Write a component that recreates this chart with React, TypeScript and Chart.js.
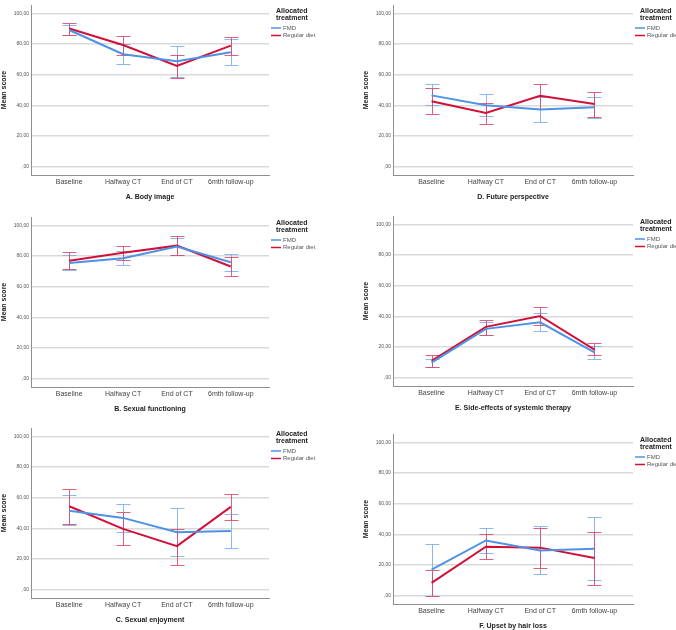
import React, { useEffect, useRef } from "react";
import { Chart, registerables } from "chart.js";

Chart.register(...registerables);

const categories = ["Baseline", "Halfway CT", "End of CT", "6mth follow-up"];
const seriesNames = ["FMD", "Regular diet"];
const yTickValues = [0, 20, 40, 60, 80, 100];

// A. Body image
const bodyImageFmd = [89.2, 73.4, 68.7, 74.7];
const bodyImageFmdLow = [85.8, 67.2, 58.7, 66.6];
const bodyImageFmdHigh = [92.6, 80.0, 78.7, 83.4];
const bodyImageReg = [90.2, 79.4, 65.7, 79.0];
const bodyImageRegLow = [85.8, 73.0, 57.7, 73.0];
const bodyImageRegHigh = [94.0, 85.5, 73.0, 84.7];

// B. Sexual functioning
const sexFuncFmd = [75.4, 78.5, 86.2, 76.0];
const sexFuncFmdLow = [70.9, 73.9, 80.7, 70.0];
const sexFuncFmdHigh = [80.5, 83.2, 91.9, 81.3];
const sexFuncReg = [77.0, 82.2, 86.8, 73.2];
const sexFuncRegLow = [71.3, 77.3, 80.7, 66.7];
const sexFuncRegHigh = [82.8, 86.4, 92.8, 79.4];

// C. Sexual enjoyment
const sexEnjFmd = [51.5, 46.8, 37.5, 38.3];
const sexEnjFmdLow = [41.9, 37.3, 21.6, 26.9];
const sexEnjFmdHigh = [61.9, 55.9, 53.2, 49.2];
const sexEnjReg = [54.4, 39.6, 28.4, 54.0];
const sexEnjRegLow = [42.8, 29.4, 16.3, 45.6];
const sexEnjRegHigh = [65.9, 50.4, 39.8, 62.5];

// D. Future perspective
const futureFmd = [46.5, 40.1, 37.3, 38.7];
const futureFmdLow = [39.9, 33.1, 29.0, 32.0];
const futureFmdHigh = [53.7, 47.3, 45.5, 45.2];
const futureReg = [42.7, 35.0, 46.2, 40.8];
const futureRegLow = [34.4, 28.0, 37.8, 32.4];
const futureRegHigh = [51.0, 41.4, 54.0, 49.0];

// E. Side-effects of systemic therapy
const sideFmd = [9.8, 31.8, 36.1, 16.5];
const sideFmdLow = [6.8, 27.5, 30.3, 12.0];
const sideFmdHigh = [12.3, 36.1, 41.9, 20.8];
const sideReg = [11.0, 33.1, 40.2, 18.3];
const sideRegLow = [6.8, 28.1, 34.2, 14.8];
const sideRegHigh = [14.6, 37.4, 46.4, 22.3];

// F. Upset by hair loss
const hairFmd = [16.9, 36.0, 29.4, 30.6];
const hairFmdLow = [-0.5, 27.5, 13.9, 10.0];
const hairFmdHigh = [33.5, 44.4, 45.2, 51.3];
const hairReg = [8.3, 31.9, 31.3, 24.6];
const hairRegLow = [-0.6, 23.7, 18.1, 6.9];
const hairRegHigh = [16.9, 40.0, 44.4, 41.6];

const FONT = "'Liberation Sans', Arial, Helvetica, sans-serif";
const BLUE = "rgb(78,146,228)";
const BLUE_ERR = "rgba(120,172,236,0.85)";
const RED = "rgb(208,16,56)";
const RED_ERR = "rgba(216,70,104,0.85)";

type PanelDef = {
  title: string;
  fmd: number[]; fmdLow: number[]; fmdHigh: number[];
  reg: number[]; regLow: number[]; regHigh: number[];
  left: number; top: number; padLeft: number; padRight: number;
};

const panels: PanelDef[] = [
  { title: "A. Body image", fmd: bodyImageFmd, fmdLow: bodyImageFmdLow, fmdHigh: bodyImageFmdHigh, reg: bodyImageReg, regLow: bodyImageRegLow, regHigh: bodyImageRegHigh, left: 0, top: 0, padLeft: 0, padRight: 69 },
  { title: "B. Sexual functioning", fmd: sexFuncFmd, fmdLow: sexFuncFmdLow, fmdHigh: sexFuncFmdHigh, reg: sexFuncReg, regLow: sexFuncRegLow, regHigh: sexFuncRegHigh, left: 0, top: 212, padLeft: 0, padRight: 69 },
  { title: "C. Sexual enjoyment", fmd: sexEnjFmd, fmdLow: sexEnjFmdLow, fmdHigh: sexEnjFmdHigh, reg: sexEnjReg, regLow: sexEnjRegLow, regHigh: sexEnjRegHigh, left: 0, top: 423, padLeft: 0, padRight: 69 },
  { title: "D. Future perspective", fmd: futureFmd, fmdLow: futureFmdLow, fmdHigh: futureFmdHigh, reg: futureReg, regLow: futureRegLow, regHigh: futureRegHigh, left: 338, top: 0, padLeft: 24, padRight: 43 },
  { title: "E. Side-effects of systemic therapy", fmd: sideFmd, fmdLow: sideFmdLow, fmdHigh: sideFmdHigh, reg: sideReg, regLow: sideRegLow, regHigh: sideRegHigh, left: 338, top: 211, padLeft: 24, padRight: 43 },
  { title: "F. Upset by hair loss", fmd: hairFmd, fmdLow: hairFmdLow, fmdHigh: hairFmdHigh, reg: hairReg, regLow: hairRegLow, regHigh: hairRegHigh, left: 338, top: 429, padLeft: 24, padRight: 43 },
];

const CANVAS_W = 338;
const CANVAS_H = 205;

const errorBarPlugin = {
  id: "errorBars",
  beforeDatasetsDraw(chart: any) {
    const { ctx, scales } = chart;
    const x = scales.x;
    const y = scales.y;
    chart.data.datasets.forEach((ds: any) => {
      if (!ds.errLow) return;
      ctx.save();
      ctx.strokeStyle = ds.errColor;
      ctx.lineWidth = 1;
      ds.data.forEach((p: any, i: number) => {
        const px = Math.round(x.getPixelForValue(p.x)) + 0.5;
        const yl = Math.round(y.getPixelForValue(ds.errLow[i])) + 0.5;
        const yh = Math.round(y.getPixelForValue(ds.errHigh[i])) + 0.5;
        ctx.beginPath();
        ctx.moveTo(px, yl);
        ctx.lineTo(px, yh);
        ctx.moveTo(px - 7, yh);
        ctx.lineTo(px + 7, yh);
        ctx.moveTo(px - 7, yl);
        ctx.lineTo(px + 7, yl);
        ctx.stroke();
      });
      ctx.restore();
    });
  },
};

const legendPlugin = {
  id: "sideLegend",
  afterDraw(chart: any) {
    const { ctx, chartArea } = chart;
    const x0 = chartArea.right + 7;
    const t = chartArea.top;
    ctx.save();
    ctx.fillStyle = "#222";
    ctx.font = `bold 7px ${FONT}`;
    ctx.textBaseline = "middle";
    ctx.textAlign = "left";
    ctx.fillText("Allocated", x0, t + 6);
    ctx.fillText("treatment", x0, t + 13.5);
    const colors = [BLUE, RED];
    seriesNames.forEach((name, i) => {
      const yy = t + 23 + i * 7.5;
      ctx.strokeStyle = colors[i];
      ctx.lineWidth = 1.5;
      ctx.beginPath();
      ctx.moveTo(x0 - 5, yy);
      ctx.lineTo(x0 + 5, yy);
      ctx.stroke();
      ctx.fillStyle = "#555";
      ctx.font = `6px ${FONT}`;
      ctx.fillText(name, x0 + 7, yy);
    });
    ctx.restore();
  },
};

function fmtTick(v: number): string {
  if (v === 0) return ",00";
  return v.toFixed(2).replace(".", ",");
}

function makeConfig(p: PanelDef): any {
  const pts = (arr: number[]) => arr.map((v, i) => ({ x: i, y: v }));
  return {
    type: "line",
    data: {
      datasets: [
        {
          label: seriesNames[0],
          data: pts(p.fmd),
          borderColor: BLUE,
          borderWidth: 2,
          pointRadius: 0,
          tension: 0,
          errLow: p.fmdLow,
          errHigh: p.fmdHigh,
          errColor: BLUE_ERR,
        },
        {
          label: seriesNames[1],
          data: pts(p.reg),
          borderColor: RED,
          borderWidth: 2,
          pointRadius: 0,
          tension: 0,
          errLow: p.regLow,
          errHigh: p.regHigh,
          errColor: RED_ERR,
        },
      ],
    },
    options: {
      animation: false,
      responsive: false,
      devicePixelRatio: 1,
      layout: { padding: { top: 1, bottom: 4, left: p.padLeft, right: p.padRight } },
      plugins: { legend: { display: false }, tooltip: { enabled: false } },
      scales: {
        x: {
          type: "linear",
          min: -0.71,
          max: 3.71,
          grid: { display: false, drawTicks: false, tickLength: 0 },
          border: { display: true, color: "#8f8f8f", width: 1 },
          afterBuildTicks: (s: any) => {
            s.ticks = [0, 1, 2, 3].map((v) => ({ value: v }));
          },
          ticks: {
            callback: (v: any) => categories[v as number],
            font: { family: FONT, size: 7 },
            color: "#444",
            padding: 3,
            maxRotation: 0,
            autoSkip: false,
          },
          title: {
            display: true,
            text: p.title,
            font: { family: FONT, size: 7, weight: "bold" },
            color: "#222",
            padding: { top: 0, bottom: 0 },
          },
          afterFit: (s: any) => {
            s.height = 26;
          },
        },
        y: {
          min: -5.5,
          max: 105.5,
          afterBuildTicks: (s: any) => {
            s.ticks = yTickValues.map((v) => ({ value: v }));
          },
          grid: { color: "#dadada", lineWidth: 1.5, drawTicks: false },
          border: { display: true, color: "#8f8f8f", width: 1 },
          ticks: {
            callback: (v: any) => fmtTick(v as number),
            font: { family: FONT, size: 5 },
            color: "#555",
            padding: 2,
          },
          title: {
            display: true,
            text: "Mean score",
            font: { family: FONT, size: 7, weight: "bold" },
            color: "#222",
            padding: { top: 0, bottom: 0 },
          },
          afterFit: (s: any) => {
            s.width = 31;
          },
        },
      },
    },
    plugins: [errorBarPlugin, legendPlugin],
  };
}

function Panel({ def }: { def: PanelDef }) {
  const ref = useRef<HTMLCanvasElement | null>(null);
  useEffect(() => {
    if (!ref.current) return;
    const chart = new Chart(ref.current, makeConfig(def));
    return () => chart.destroy();
  }, [def]);
  return (
    <canvas
      ref={ref}
      width={CANVAS_W}
      height={CANVAS_H}
      style={{ position: "absolute", left: def.left, top: def.top, width: CANVAS_W, height: CANVAS_H }}
    />
  );
}

export default function App() {
  return (
    <div
      style={{
        position: "fixed",
        left: 0,
        top: 0,
        width: 676,
        height: 630,
        overflow: "hidden",
        background: "#fff",
      }}
    >
      {panels.map((p) => (
        <Panel key={p.title} def={p} />
      ))}
    </div>
  );
}
